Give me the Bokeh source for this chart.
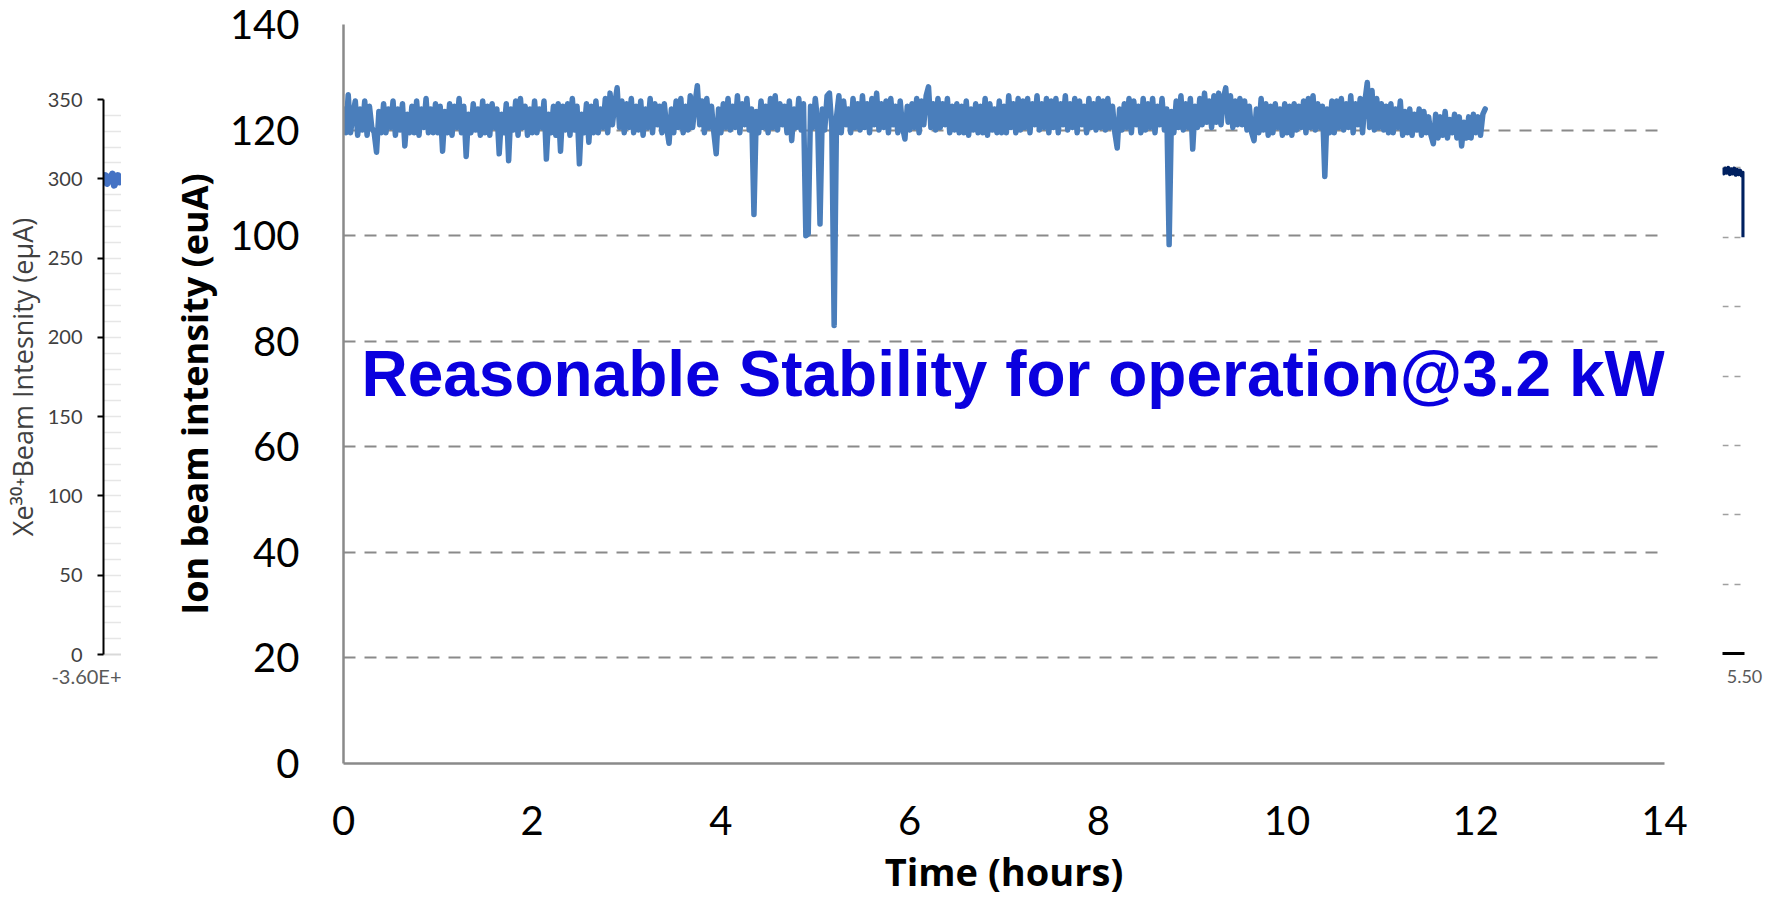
from bokeh.plotting import figure
from bokeh.layouts import row, column
from bokeh.models import Range1d, FixedTicker, Label, Title, NumeralTickFormatter
from bokeh.embed import file_html
from bokeh.resources import INLINE

# ---------------- data ----------------
SAMPLE_HOURS = 0.025
beam_euA = [
    124, 119.5, 126.7, 119.5, 123, 125.5, 119, 124, 120, 125.5, 119, 124.5, 120.5, 119.5, 115.8, 123.5, 119.5, 125, 119.5, 124,
    120.5, 125.5, 119, 124, 120, 125, 117, 123, 119.5, 124.5, 119.5, 125.5, 119, 124, 120.5, 126, 119.5, 124, 119.5, 125,
    119.5, 124.5, 116, 123.5, 119.5, 125, 119, 124.5, 120.5, 126, 119.5, 124.5, 115, 123, 119.5, 125, 120, 124, 119, 125.5,
    119.5, 124.5, 119, 125, 120.5, 124, 115.5, 123, 119.5, 125, 114.2, 124, 120, 125.5, 119, 126, 120.5, 124.5, 119, 124,
    119.5, 125.5, 119.5, 124, 120.5, 125.5, 114.5, 123, 119.5, 124.5, 119, 125, 116, 124.5, 120, 125, 119, 126, 120, 124.5,
    113.6, 123, 119.5, 125, 117.7, 124.5, 119.5, 125.5, 119.5, 124, 120.5, 126, 119.5, 127, 121, 125, 128, 120.5, 125.5, 119.5,
    125, 120.5, 126, 119.5, 124.5, 120, 125.5, 119, 124, 120.5, 126, 119.5, 125, 121, 124.5, 119.5, 125, 120.5, 117.5, 124,
    119.5, 125.5, 120.5, 126, 119.5, 124.5, 120, 126.5, 120.5, 125, 128.4, 121, 125.5, 119.5, 126, 120.5, 124.5, 119.5, 115.5, 124,
    119.5, 125, 120.5, 126, 120, 124.5, 120.5, 126.5, 119.5, 125, 121, 126, 120, 124, 104, 123.5, 119.5, 125.5, 120.5, 124.5,
    119.5, 126, 120.5, 126.5, 120, 125, 121, 124.5, 119.5, 125.5, 118, 124, 120.5, 126, 120, 125, 100, 100.3, 124.5, 120.5,
    126, 121.5, 102.2, 124, 120, 126.5, 127, 120.5, 83, 122.5, 126.5, 119.5, 125.5, 121, 124, 119.5, 126, 120.5, 125, 120,
    126.5, 120.5, 125, 119.5, 126, 121, 127, 120, 125, 120.5, 125.5, 119.5, 126, 121, 124.5, 119.5, 125.5, 120.5, 118.3, 124.5,
    120, 125, 120.5, 126, 119.5, 125.5, 121, 126.5, 128.2, 120.5, 125, 120, 126, 120.5, 125, 121, 126, 119.5, 124.5, 120,
    125, 119.5, 124.5, 119.5, 125.5, 119, 124, 120, 125, 119.5, 124.5, 119.5, 126, 119, 125, 120, 124, 119.5, 125.5, 119.5,
    124.5, 119.5, 126.5, 120.5, 125, 119.5, 126, 120, 125.5, 120.5, 126, 119.5, 125, 121, 126.5, 120, 125, 120.5, 126, 119.5,
    125.5, 120.5, 126, 119.5, 125, 121, 126.5, 120, 125, 120.5, 126, 119.5, 125.5, 121, 124.5, 119.5, 126, 120.5, 125, 120,
    126, 120.5, 125.5, 120, 126, 120.5, 124.5, 119.5, 116.6, 124, 120, 125, 120.5, 126, 119.5, 125.5, 121, 124.5, 119.5, 126,
    120, 125, 120.5, 126, 119.5, 124.5, 121, 126, 120, 124, 98.3, 123.5, 119.5, 125.5, 120.5, 126.5, 120, 125, 120.5, 126,
    116.4, 124.5, 120.5, 126, 121, 127, 121.5, 125.5, 120.5, 126.5, 121.5, 127, 121, 126, 128, 121.5, 126.5, 120.5, 125.5, 121,
    126, 121, 125.5, 120, 124.5, 119.5, 118, 124, 119.5, 126, 120, 125, 119, 124.5, 119.5, 125, 120.5, 124, 119, 125,
    119.5, 124.5, 119, 125, 120, 124.5, 120.5, 125.5, 119.5, 126, 120.5, 126.5, 120, 125, 120.5, 124.5, 111.2, 124, 119.5, 125.5,
    119.5, 125.5, 120.5, 126, 120, 125, 120.5, 126.5, 119.5, 125, 121, 126, 119.5, 125.5, 129, 120.5, 127.5, 120, 126, 120.5,
    125, 120, 124.5, 119.5, 125, 119.5, 124, 120.5, 125.5, 119, 123.5, 119.5, 124, 119, 123, 120, 124, 119, 123.5, 119.5,
    122.5, 119, 117.4, 123, 118.5, 122.5, 119, 123.5, 118.5, 122, 119.5, 123, 118.5, 122.5, 117, 121.5, 118.5, 122.5, 118.5, 123,
    119.5, 122.5, 119, 123, 124,
]
time_hours = [round(i * SAMPLE_HOURS, 3) for i in range(len(beam_euA))]

x_ticks = [0, 2, 4, 6, 8, 10, 12, 14]
y_ticks = [0, 20, 40, 60, 80, 100, 120, 140]

# neighbouring (cropped) chart on the left
left_time = [-3600, -3590, -3580, -3570, -3560, -3550, -3540, -3530, -3520, -3510, -3500]
left_beam = [300, 302, 297, 301, 299, 303, 296, 300, 302, 298, 300]
left_y_ticks = [0, 50, 100, 150, 200, 250, 300, 350]
left_grid_ticks = list(range(0, 351, 10))
left_x_label = "-3.60E+"

# neighbouring (cropped) chart on the right
right_time = [5.20, 5.22, 5.24, 5.26, 5.28, 5.30, 5.32, 5.34, 5.36, 5.38, 5.40, 5.42, 5.44, 5.46, 5.48, 5.485, 5.485]
right_val = [70.0, 69.2, 69.9, 69.3, 70.0, 69.1, 69.8, 69.2, 69.9, 69.0, 69.7, 69.1, 69.6, 68.9, 69.3, 68.8, 60.0]
right_grid_ticks = [10, 20, 30, 40, 50, 60, 70, 80]
right_x_ticks = [5.5]

# ---------------- main chart ----------------
LINE_BLUE = "#4A7EBB"
p = figure(width=1594, height=900, x_range=Range1d(0, 14), y_range=Range1d(0, 140),
           output_backend="svg", toolbar_location=None,
           min_border_left=222, min_border_right=51, min_border_top=24, min_border_bottom=137)
p.outline_line_color = None

p.line(time_hours, beam_euA, line_color=LINE_BLUE, line_width=5.5,
       line_join="round", line_cap="round")

p.xgrid.visible = False
p.ygrid.ticker = FixedTicker(ticks=y_ticks)
p.ygrid.grid_line_color = "#8a8a8a"
p.ygrid.grid_line_width = 2
p.ygrid.grid_line_dash = "12 9"

for ax in (p.xaxis[0], p.yaxis[0]):
    ax.axis_line_color = "#8a8a8a"
    ax.axis_line_width = 2.5
    ax.major_tick_line_color = None
    ax.minor_tick_line_color = None
    ax.major_label_text_font = "Lato"
    ax.major_label_text_font_size = "40px"
    ax.major_label_text_color = "black"
    ax.axis_label_text_font = "Open Sans"
    ax.axis_label_text_font_style = "bold"
    ax.axis_label_text_color = "black"

p.xaxis.ticker = FixedTicker(ticks=x_ticks)
p.yaxis.ticker = FixedTicker(ticks=y_ticks)
p.xaxis.axis_label = "Time (hours)"
p.yaxis.axis_label = "Ion beam intensity (euA)"
p.xaxis.axis_label_text_font_size = "38px"
p.yaxis.axis_label_text_font_size = "36px"
p.xaxis.major_label_standoff = 36
p.xaxis.axis_label_standoff = 7
p.yaxis.major_label_standoff = 38
p.yaxis.axis_label_standoff = 8

p.add_layout(Label(x=0.19, y=73.7, text="Reasonable Stability for operation@3.2 kW",
                   text_font="Liberation Sans", text_font_style="bold",
                   text_font_size="64px", text_color="#0A00DE",
                   text_baseline="alphabetic", text_align="left"))

# ---------------- left cropped chart ----------------
lp = figure(width=121, height=900, x_range=Range1d(-3600, -3500), y_range=Range1d(0, 350),
            output_backend="svg", toolbar_location=None,
            min_border_left=103, min_border_right=0, min_border_top=99, min_border_bottom=246)
lp.outline_line_color = None
lp.line(left_time, left_beam, line_color="#4472C4", line_width=7, line_join="round")
lp.xgrid.visible = False
lp.ygrid.ticker = FixedTicker(ticks=left_grid_ticks)
lp.ygrid.grid_line_color = "#e6e6e6"
lp.ygrid.grid_line_width = 1.5
lp.yaxis.ticker = FixedTicker(ticks=left_y_ticks)
lp.yaxis.axis_line_color = "black"
lp.yaxis.axis_line_width = 2
lp.yaxis.major_tick_line_color = "black"
lp.yaxis.major_tick_line_width = 2
lp.yaxis.major_tick_out = 6
lp.yaxis.major_tick_in = 0
lp.yaxis.minor_tick_line_color = None
lp.yaxis.major_label_standoff = 15
lp.yaxis.major_label_text_font = "Lato"
lp.yaxis.major_label_text_font_size = "20px"
lp.yaxis.major_label_text_color = "#404040"
lp.yaxis.axis_label = "Xe³⁰⁺Beam Intesnity (eμA)"
lp.yaxis.axis_label_text_font = "Open Sans"
lp.yaxis.axis_label_text_font_style = "normal"
lp.yaxis.axis_label_text_font_size = "27px"
lp.yaxis.axis_label_text_color = "#404040"
lp.yaxis.axis_label_standoff = 4
lp.xaxis.ticker = FixedTicker(ticks=[])
lp.xaxis.axis_line_color = "#d9d9d9"
lp.xaxis.axis_line_width = 2
lp.xaxis.major_tick_line_color = None
lp.xaxis.minor_tick_line_color = None
lp.add_layout(Title(text=left_x_label, align="right", text_font="Lato",
                    text_font_style="normal", text_font_size="20px",
                    text_color="#595959", standoff=15), "below")

# ---------------- right cropped chart ----------------
rp = figure(width=60, height=900, x_range=Range1d(5.2, 5.5), y_range=Range1d(0, 80),
            output_backend="svg", toolbar_location=None,
            min_border_left=7, min_border_right=31, min_border_top=98, min_border_bottom=247)
rp.outline_line_color = None
rp.line(right_time, right_val, line_color="#002060", line_width=4, line_join="round")
rp.xgrid.visible = False
rp.ygrid.ticker = FixedTicker(ticks=right_grid_ticks)
rp.ygrid.grid_line_color = "#a0a0a0"
rp.ygrid.grid_line_width = 1.5
rp.ygrid.grid_line_dash = "6 6"
rp.yaxis.visible = False
rp.xaxis.ticker = FixedTicker(ticks=right_x_ticks)
rp.xaxis.formatter = NumeralTickFormatter(format="0.00")
rp.xaxis.axis_line_color = "black"
rp.xaxis.axis_line_width = 3
rp.xaxis.major_tick_line_color = None
rp.xaxis.minor_tick_line_color = None
rp.xaxis.major_label_standoff = 10
rp.xaxis.major_label_text_font = "Lato"
rp.xaxis.major_label_text_font_size = "18px"
rp.xaxis.major_label_text_color = "#595959"

layout = row(column(lp), column(p), column(rp), spacing=0)
open("out.html", "w").write(file_html(layout, INLINE))
